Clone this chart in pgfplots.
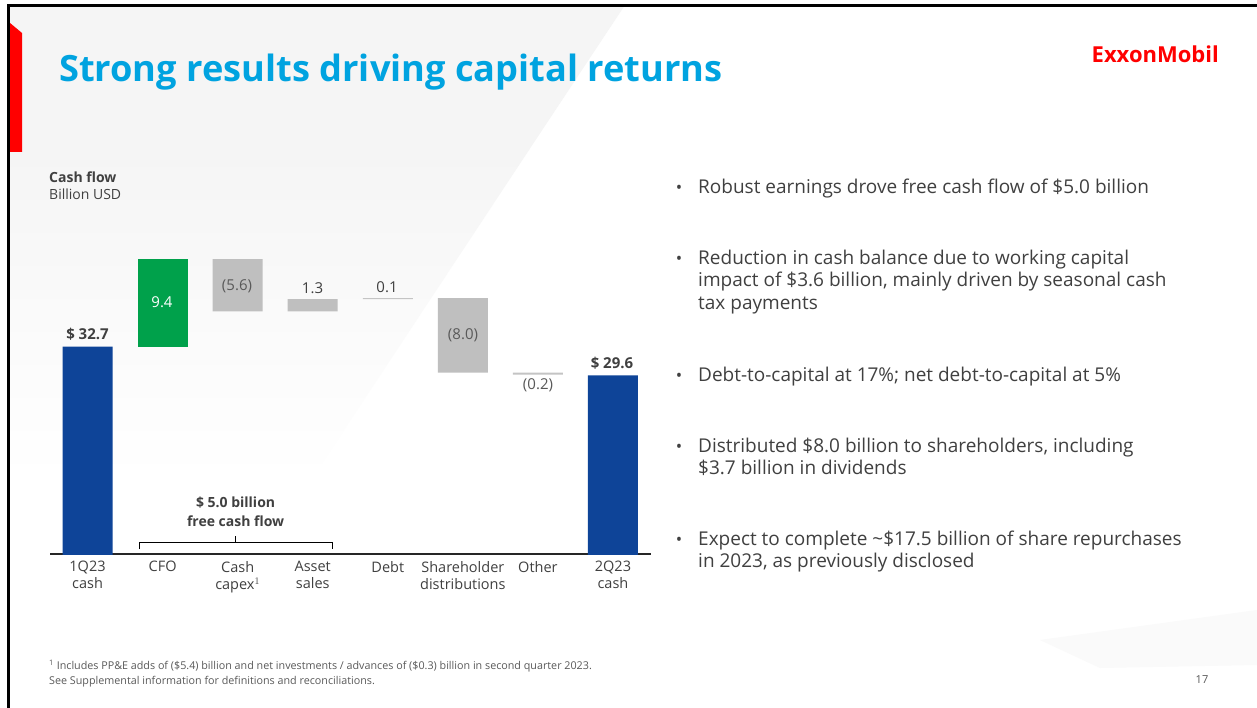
\documentclass[border=0pt]{standalone}
\usepackage{pgfplots}
\pgfplotsset{compat=1.18}
\usepackage{fontspec}
\setmainfont{Open Sans}
\definecolor{xblue}{RGB}{14,68,152}
\definecolor{xgreen}{RGB}{0,161,75}
\definecolor{xgray}{RGB}{191,191,191}
\definecolor{xline}{RGB}{196,196,196}
\definecolor{xtext}{RGB}{64,64,64}
\definecolor{xlab}{RGB}{89,89,89}
\definecolor{xtitle}{RGB}{0,163,224}
\definecolor{xred}{RGB}{255,0,0}
\definecolor{bggray}{RGB}{245,245,245}
\newcommand{\fs}[2]{\fontsize{#1bp}{#2bp}\selectfont}
\tikzset{vlab/.style={anchor=base, font=\fs{15}{18}, text=xlab, inner sep=0}}
\begin{document}
\begin{tikzpicture}
\begin{scope}[x=1bp,y=-1bp]
\path[use as bounding box] (0,0) rectangle (1257,708);
\fill[white] (0,0) rectangle (1257,708);
\fill[bggray] (8,5) -- (625,5) -- (529,150) -- (8,150) -- cycle;
\shade[top color=bggray, bottom color=white] (8,150) -- (529,150) -- (311,480) -- (8,480) -- cycle;
\fill[white!98!black] (1040,640) -- (1257,610) -- (1257,665) -- (1100,668) -- cycle;
\draw[black, line width=2.5bp] (8.7,708) -- (8.7,5.3) -- (1257,5.3);
\fill[xred] (10,23) -- (22,33) -- (22,152) -- (10,152) -- cycle;
\node[anchor=base west, text=xtitle, font=\bfseries\fs{36.2}{42}, inner sep=0] at (59,82) {Strong results driving capital returns};
\node[anchor=base east, text=xred, font=\bfseries\fs{22}{26}, inner sep=0] at (1219,63) {ExxonMobil};
\node[anchor=base west, text=xtext, font=\bfseries\fs{14}{17}, inner sep=0] at (49,183) {Cash flow};
\node[anchor=base west, text=xtext, font=\fs{14}{17}, inner sep=0] at (49,200) {Billion USD};
% bullets
\foreach \yy in {194,264,381,452,545} {
  \node[anchor=base, text=xtext, font=\fs{17}{20}, inner sep=0] at (679,\yy) {•};
}
\begin{scope}[every node/.style={anchor=base west, text=xtext, font=\fs{19}{22}, inner sep=0}]
\node at (698,194) {Robust earnings drove free cash flow of \$5.0 billion};
\node at (698,264) {Reduction in cash balance due to working capital};
\node at (698,286.5) {impact of \$3.6 billion, mainly driven by seasonal cash};
\node at (698,309) {tax payments};
\node at (698,381) {Debt-to-capital at 17\%; net debt-to-capital at 5\%};
\node at (698,452) {Distributed \$8.0 billion to shareholders, including};
\node at (698,474.5) {\$3.7 billion in dividends};
\node at (698,545) {Expect to complete \textasciitilde\$17.5 billion of share repurchases};
\node at (698,567.5) {in 2023, as previously disclosed};
\end{scope}
% footnote
\begin{scope}[every node/.style={anchor=base west, text=xlab, font=\fs{10.75}{13}, inner sep=0}]
\node at (49,669) {\textsuperscript{1} Includes PP\&E adds of (\$5.4) billion and net investments / advances of (\$0.3) billion in second quarter 2023.};
\node at (49,684) {See Supplemental information for definitions and reconciliations.};
\end{scope}
\node[anchor=base, text=xlab, font=\fs{11}{13}, inner sep=0] at (1202,683) {17};
\end{scope}

\begin{axis}[
  at={(50bp,-554bp)}, anchor=south west,
  scale only axis, width=600.5bp, height=321.8bp,
  xmin=-0.5, xmax=7.5, ymin=10.4, ymax=45,
  enlargelimits=false,
  ybar stacked, bar width=50bp,
  axis x line*=bottom, hide y axis,
  x axis line style={draw=black!85, line width=1.3bp},
  xtick={0,1,2,3,4,5,6,7},
  major tick length=0pt,
  xticklabels={{1Q23\\cash},{CFO},{Cash\\capex$^{1}$},{Asset\\sales},{Debt},{Shareholder\\distributions},{Other},{2Q23\\cash}},
  xticklabel style={font=\fs{14.5}{17}, text=xtext, align=center, anchor=north, inner sep=0pt, yshift=-7bp},
]
\addplot[draw=none, fill=none] coordinates {(0,0)(1,32.7)(2,36.5)(3,36.5)(4,37.8)(5,29.9)(6,29.7)(7,0)};
\addplot[draw=none, fill=xblue] coordinates {(0,32.7)(1,0)(2,0)(3,0)(4,0)(5,0)(6,0)(7,29.6)};
\addplot[draw=none, fill=xgreen] coordinates {(0,0)(1,9.4)(2,0)(3,0)(4,0)(5,0)(6,0)(7,0)};
\addplot[draw=none, fill=xgray] coordinates {(0,0)(1,0)(2,5.6)(3,1.3)(4,0)(5,8.0)(6,0)(7,0)};
\addplot[draw=none, fill=xline] coordinates {(0,0)(1,0)(2,0)(3,0)(4,0.1)(5,0)(6,0.2)(7,0)};
\end{axis}

\begin{scope}[x=1bp,y=-1bp]
% value labels
\node[vlab, font=\bfseries\fs{15}{18}, text=xtext] at (87.5,339) {\$ 32.7};
\node[vlab, text=white] at (162,307.5) {9.4};
\node[vlab] at (237,290) {(5.6)};
\node[vlab, text=xtext] at (312.5,293.3) {1.3};
\node[vlab, text=xtext] at (387,292.7) {0.1};
\node[vlab] at (463,339.5) {(8.0)};
\node[vlab] at (538,389.5) {(0.2)};
\node[vlab, font=\bfseries\fs{15}{18}, text=xtext] at (612,368) {\$ 29.6};
% free cash flow bracket
\draw[black, line width=1bp] (139,549) -- (139,542.5) -- (332,542.5) -- (332,549);
\draw[black, line width=1bp] (235.6,542.5) -- (235.6,536);
\node[anchor=base, font=\bfseries\fs{14}{17}, text=xtext, inner sep=0] at (235.6,507.5) {\$ 5.0 billion};
\node[anchor=base, font=\bfseries\fs{14}{17}, text=xtext, inner sep=0] at (235.6,526) {free cash flow};
\end{scope}
\end{tikzpicture}
\end{document}
